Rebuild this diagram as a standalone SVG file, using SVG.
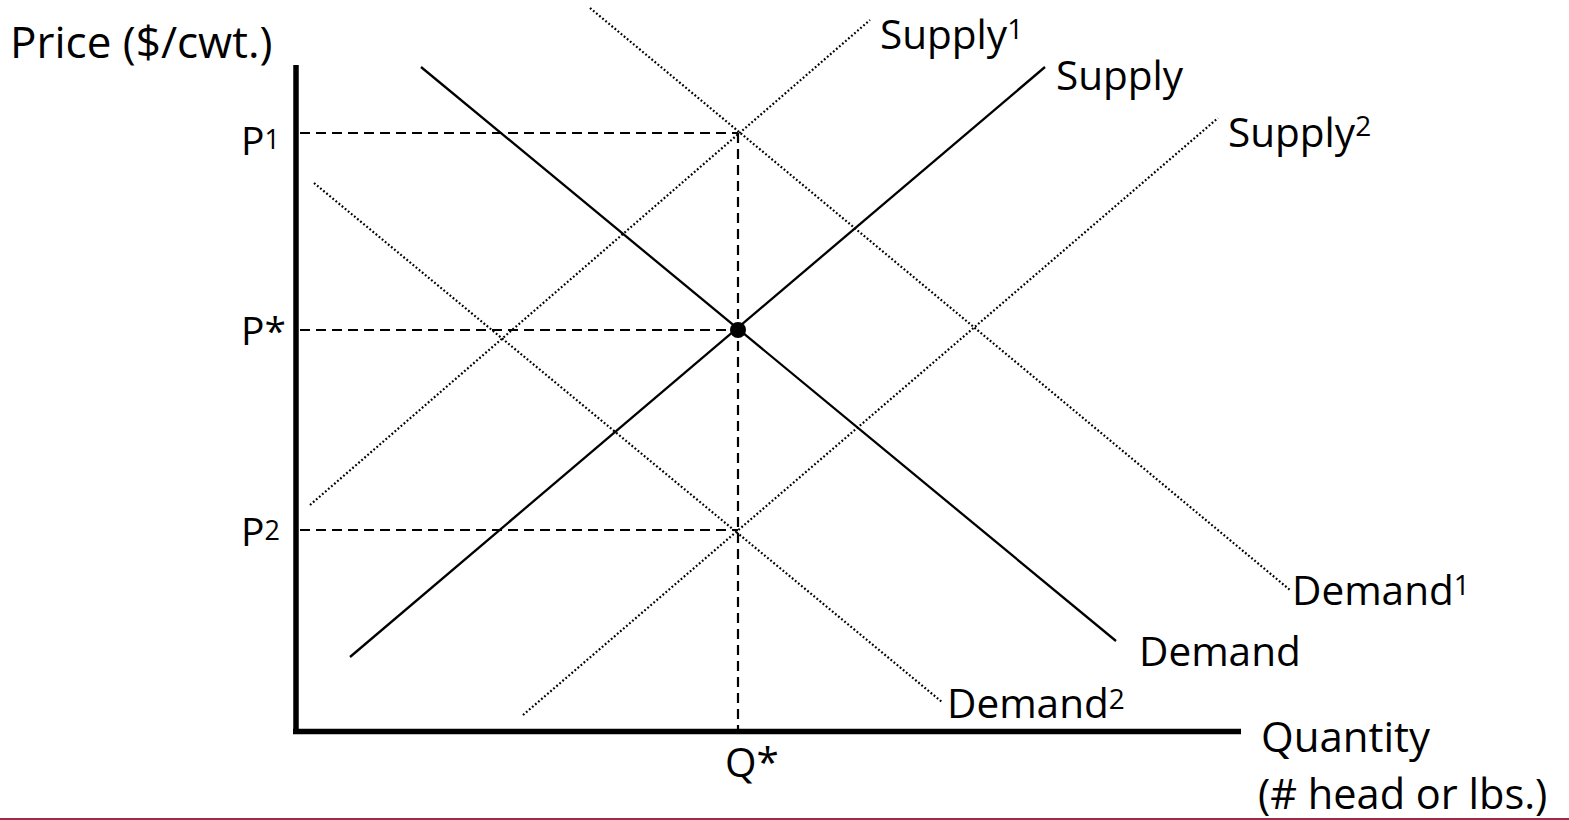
<svg xmlns="http://www.w3.org/2000/svg" width="1569" height="820" viewBox="0 0 1569 820">
<style>
text{font-family:"Open Sans","Noto Sans","Liberation Sans",sans-serif;fill:#000;font-size:40.5px}
.axis{stroke:#000;stroke-width:5.5;fill:none}
.solid{stroke:#000;stroke-width:2.3;fill:none}
.dot{stroke:#000;stroke-width:2.2;stroke-dasharray:1.8 2.2;fill:none}
.dash{stroke:#000;stroke-width:2.2;stroke-dasharray:10 6;fill:none}
.sup{font-size:28px}
.pl{font-size:39px}
.psup{font-size:27px}
</style>
<rect width="1569" height="820" fill="#fff"/>
<g id="axes">
<line class="axis" x1="296" y1="65" x2="296" y2="734"/>
<line class="axis" x1="293" y1="731.5" x2="1241" y2="731.5"/>
</g>
<g id="connectors">
<line class="dash" x1="300" y1="133" x2="738" y2="133"/>
<line class="dash" x1="300" y1="330" x2="738" y2="330"/>
<line class="dash" x1="300" y1="530" x2="738" y2="530"/>
<line class="dash" x1="738" y1="133" x2="738" y2="729"/>
<line class="solid" x1="350" y1="657" x2="1045" y2="67"/>
<line class="solid" x1="421" y1="67" x2="1116" y2="641"/>
<line class="dot" x1="310" y1="505" x2="870" y2="20"/>
<line class="dot" x1="523" y1="715" x2="1218" y2="118"/>
<line class="dot" x1="590" y1="8" x2="1290" y2="590"/>
<line class="dot" x1="314" y1="183" x2="942" y2="702"/>
</g>
<g id="equilibrium"><circle cx="738" cy="330" r="8" fill="#000"/></g>
<g id="labels">
<text x="10" y="58" style="font-size:44px">Price ($/cwt.)</text>
<text class="pl" x="241" y="155">P<tspan class="psup" dy="-6">1</tspan></text>
<text class="pl" x="241" y="345">P*</text>
<text class="pl" x="241" y="546">P<tspan class="psup" dy="-6">2</tspan></text>
<text x="725" y="777">Q*</text>
<text x="880" y="49">Supply<tspan class="sup" dy="-10">1</tspan></text>
<text x="1056" y="90">Supply</text>
<text x="1228" y="147">Supply<tspan class="sup" dy="-11">2</tspan></text>
<text x="1292" y="605">Demand<tspan class="sup" dy="-10">1</tspan></text>
<text x="1139" y="666">Demand</text>
<text x="947" y="718">Demand<tspan class="sup" dy="-9">2</tspan></text>
<text x="1261" y="752" style="font-size:42px">Quantity</text>
<text x="1258" y="809" style="font-size:41.5px">(# head or lbs.)</text>
</g>
<line x1="0" y1="819" x2="1569" y2="819" stroke="#9a2c45" stroke-width="2"/>
</svg>
